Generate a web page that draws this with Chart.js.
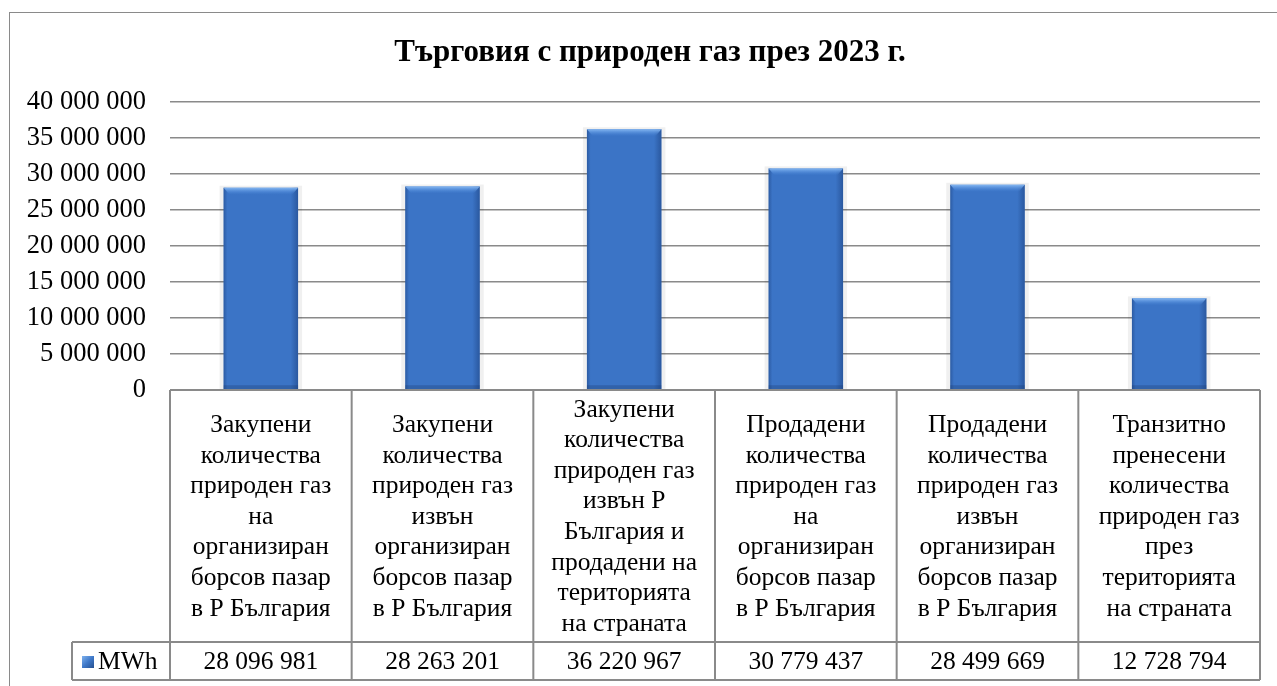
<!DOCTYPE html>
<html lang="bg">
<head>
<meta charset="utf-8">
<script src="https://cdn.jsdelivr.net/npm/chart.js@4/dist/chart.umd.min.js"></script>
<style>
  html, body { margin: 0; padding: 0; background: #fff; }
  .frame { position: absolute; left: 9px; top: 12px; width: 1300px; height: 700px; border: 1.5px solid #8a8a8a; box-sizing: border-box; }
  .wrap { position: absolute; left: 0; top: 0; width: 1277px; height: 686px; }
</style>
</head>
<body>
<div class="frame"></div>
<div class="wrap"><canvas id="chart"></canvas></div>
<script>
// данни от таблицата под графиката
const chartTitle = "Търговия с природен газ през 2023 г.";
const seriesName = "MWh";
const categories = [
  ["Закупени", "количества", "природен газ", "на", "организиран", "борсов пазар", "в Р България"],
  ["Закупени", "количества", "природен газ", "извън", "организиран", "борсов пазар", "в Р България"],
  ["Закупени", "количества", "природен газ", "извън Р", "България и", "продадени на", "територията", "на страната"],
  ["Продадени", "количества", "природен газ", "на", "организиран", "борсов пазар", "в Р България"],
  ["Продадени", "количества", "природен газ", "извън", "организиран", "борсов пазар", "в Р България"],
  ["Транзитно", "пренесени", "количества", "природен газ", "през", "територията", "на страната"],
];
const values = [28096981, 28263201, 36220967, 30779437, 28499669, 12728794];
const yMax = 40000000;
const yStep = 5000000;

const FONT = '"Liberation Serif", "Times New Roman", serif';
const LINE = "#8a8a8a";
const TABLE_BOTTOM = 680;
const VALUE_ROW_TOP = 642;
const LEGEND_LEFT = 72;

function fmt(v) {
  return String(Math.round(v)).replace(/\B(?=(\d{3})+(?!\d))/g, " ");
}

function barGradient(ctx, top, bottom) {
  const g = ctx.createLinearGradient(0, top, 0, bottom);
  g.addColorStop(0, "#4a88dc");
  g.addColorStop(0.5, "#3b74c6");
  g.addColorStop(1, "#2f60ad");
  return g;
}

// заглавие, бевел на стълбовете и таблицата с данни
const tablePlugin = {
  id: "tablePlugin",
  beforeDatasetsDraw(chart) {
    const ctx = chart.ctx;
    const meta = chart.getDatasetMeta(0);
    ctx.save();
    meta.data.forEach((bar) => {
      const w = bar.width;
      ctx.fillStyle = "rgba(0,0,0,0.06)";
      ctx.fillRect(bar.x - w / 2 - 4, bar.y - 2, w + 8, bar.base - bar.y + 2);
    });
    ctx.restore();
  },
  afterDatasetsDraw(chart) {
    const ctx = chart.ctx;
    const meta = chart.getDatasetMeta(0);
    ctx.save();
    meta.data.forEach((bar) => {
      const l = bar.x - bar.width / 2;
      const r = bar.x + bar.width / 2;
      const t = bar.y;
      const b = bar.base;
      // странични ръбове
      const gs = ctx.createLinearGradient(l, 0, r, 0);
      gs.addColorStop(0, "rgba(25,60,120,0.45)");
      gs.addColorStop(0.05, "rgba(25,60,120,0)");
      gs.addColorStop(0.9, "rgba(25,60,120,0)");
      gs.addColorStop(1, "rgba(25,60,120,0.5)");
      ctx.fillStyle = gs;
      ctx.fillRect(l, t, r - l, b - t);
      // горен ръб
      const gt = ctx.createLinearGradient(0, t, 0, t + 7);
      gt.addColorStop(0, "#86b8f2");
      gt.addColorStop(1, "rgba(74,136,220,0)");
      ctx.fillStyle = gt;
      ctx.beginPath();
      ctx.moveTo(l, t);
      ctx.lineTo(r, t);
      ctx.lineTo(r - 6, t + 7);
      ctx.lineTo(l + 6, t + 7);
      ctx.closePath();
      ctx.fill();
      // долен ръб
      ctx.fillStyle = "rgba(25,55,105,0.3)";
      ctx.fillRect(l, b - 4, r - l, 4);
    });
    ctx.restore();
  },
  afterDraw(chart) {
    const ctx = chart.ctx;
    const area = chart.chartArea;
    const xs = chart.scales.x;
    const n = categories.length;
    const colW = (area.right - area.left) / n;

    ctx.save();
    // заглавие
    ctx.fillStyle = "#000";
    ctx.font = `bold 31px ${FONT}`;
    ctx.textAlign = "center";
    ctx.textBaseline = "middle";
    ctx.fillText(chartTitle, 650, 53);

    // линии на таблицата
    ctx.strokeStyle = LINE;
    ctx.lineWidth = 2;
    ctx.beginPath();
    ctx.moveTo(area.left, area.bottom);
    ctx.lineTo(area.right, area.bottom);
    ctx.moveTo(LEGEND_LEFT, VALUE_ROW_TOP);
    ctx.lineTo(area.right, VALUE_ROW_TOP);
    ctx.moveTo(LEGEND_LEFT, TABLE_BOTTOM);
    ctx.lineTo(area.right, TABLE_BOTTOM);
    ctx.moveTo(LEGEND_LEFT, VALUE_ROW_TOP);
    ctx.lineTo(LEGEND_LEFT, TABLE_BOTTOM);
    for (let i = 0; i <= n; i++) {
      const x = area.left + i * colW;
      ctx.moveTo(x, area.bottom);
      ctx.lineTo(x, TABLE_BOTTOM);
    }
    ctx.stroke();

    // текст на категориите
    ctx.font = `25.5px ${FONT}`;
    ctx.fillStyle = "#000";
    const lh = 30.6;
    const labelMid = (area.bottom + VALUE_ROW_TOP) / 2 + 1;
    const valueMid = (VALUE_ROW_TOP + TABLE_BOTTOM) / 2 + 1;
    categories.forEach((lines, i) => {
      const cx = xs.getPixelForValue(i);
      const y0 = labelMid - ((lines.length - 1) * lh) / 2;
      lines.forEach((s, k) => ctx.fillText(s, cx, y0 + k * lh));
      ctx.fillText(fmt(values[i]), cx, valueMid);
    });

    // легенда в таблицата
    const mx = 82, my = valueMid - 6, ms = 12;
    const mg = ctx.createLinearGradient(mx, my, mx + ms, my + ms);
    mg.addColorStop(0, "#7fb2ee");
    mg.addColorStop(0.5, "#3f79c9");
    mg.addColorStop(1, "#26508f");
    ctx.fillStyle = mg;
    ctx.fillRect(mx, my, ms, ms);
    ctx.fillStyle = "#000";
    ctx.textAlign = "left";
    ctx.fillText(seriesName, 98, valueMid);
    ctx.restore();
  },
};

new Chart(document.getElementById("chart"), {
  type: "bar",
  data: {
    labels: categories.map((c) => c.join(" ")),
    datasets: [
      {
        label: seriesName,
        data: values,
        backgroundColor: (c) => {
          const bar = c.chart.getDatasetMeta(0).data[c.dataIndex];
          if (!bar || bar.base === undefined) return "#3b74c6";
          return barGradient(c.chart.ctx, bar.y, bar.base);
        },
        borderWidth: 0,
        categoryPercentage: 1,
        barPercentage: 0.41,
      },
    ],
  },
  options: {
    responsive: true,
    maintainAspectRatio: false,
    animation: false,
    layout: { padding: { top: 102, right: 17, left: 0, bottom: 0 } },
    plugins: {
      legend: { display: false },
      title: { display: false },
      tooltip: { enabled: false },
    },
    scales: {
      x: {
        grid: { display: false },
        border: { display: false },
        ticks: { display: false },
        afterFit: (s) => { s.height = 686 - 390; },
      },
      y: {
        min: 0,
        max: yMax,
        grid: { color: LINE, lineWidth: 1.5, drawTicks: false },
        border: { display: false },
        ticks: {
          stepSize: yStep,
          padding: 24,
          color: "#000",
          font: { family: FONT, size: 26.5 },
          callback: (v) => fmt(v),
        },
        afterFit: (s) => { s.width = 170; },
      },
    },
  },
  plugins: [tablePlugin],
});
</script>
</body>
</html>
